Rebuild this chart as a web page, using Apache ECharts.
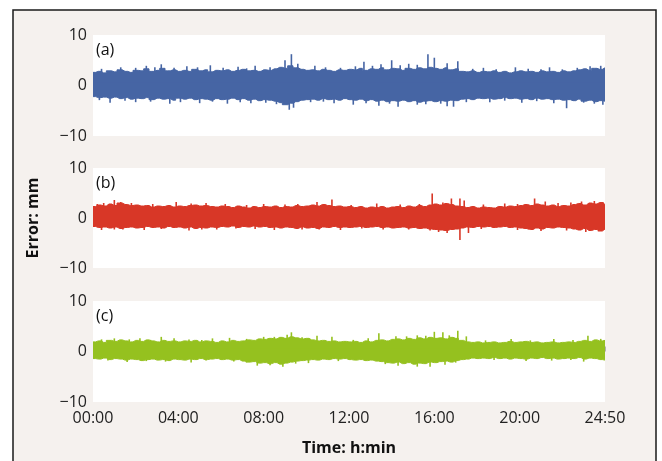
<!DOCTYPE html>
<html>
<head>
<meta charset="utf-8">
<script src="https://cdn.jsdelivr.net/npm/echarts@6/dist/echarts.min.js"></script>
<style>
html,body{margin:0;padding:0;background:#fff;}
#chart{width:662px;height:461px;}
</style>
</head>
<body>
<div id="chart"></div>
<script>
// Sampling grid: every 0.25 h from 00:00 to 24:00 (97 samples)
const sampleStepHours = 0.25;
const xTickLabels = ['00:00','04:00','08:00','12:00','16:00','20:00','24:50'];
const yTickLabels = {'10':'10','0':'0','-10':'\u221210'};
const panelLabels = ['(a)','(b)','(c)'];

// Panel (a) envelope (mm)
const aHigh = [2.6,2.8,2.5,2.9,2.7,3.1,2.8,2.6,3.0,
  2.9,3.3,2.8,3.0,3.4,2.9,3.1,2.8,
  3.0,2.8,3.2,2.9,3.1,2.7,3.0,2.9,
  3.1,2.8,3.0,3.2,2.9,3.0,2.8,3.1,
  3.0,3.3,3.6,3.4,3.9,3.5,3.2,3.0,
  3.1,2.9,3.2,3.0,2.8,3.1,3.0,3.2,
  3.1,3.4,3.0,3.3,3.2,3.5,3.1,3.4,
  3.3,3.0,3.4,3.2,3.5,3.3,3.6,3.4,
  3.2,3.5,3.1,3.3,2.8,2.7,2.9,2.6,
  2.8,2.7,2.9,2.6,2.8,2.5,2.7,2.9,
  2.7,2.8,2.6,2.9,2.7,2.8,2.6,2.9,
  2.7,2.9,3.1,3.3,3.0,3.4,3.2,3.5];
const aLow = [-2.2,-2.4,-2.3,-2.5,-2.3,-2.6,-2.4,-2.7,-2.5,
  -2.6,-2.4,-2.8,-2.5,-2.7,-2.6,-2.9,-2.5,
  -2.7,-2.5,-2.8,-2.6,-2.7,-2.9,-2.6,-2.8,
  -2.7,-2.5,-2.8,-2.6,-2.9,-2.7,-3.0,-2.8,
  -2.9,-3.1,-3.4,-3.8,-3.5,-3.2,-2.9,-2.8,
  -2.7,-2.9,-2.6,-2.8,-2.7,-2.9,-2.6,-2.8,
  -2.9,-2.7,-3.0,-2.8,-3.1,-2.9,-3.2,-3.0,
  -3.1,-2.9,-3.2,-3.0,-3.3,-3.1,-3.0,-3.2,
  -3.0,-3.1,-2.9,-3.0,-2.7,-2.6,-2.8,-2.5,
  -2.6,-2.5,-2.7,-2.6,-2.4,-2.6,-2.5,-2.7,
  -2.6,-2.8,-2.5,-2.7,-2.6,-2.8,-2.7,-2.9,
  -2.8,-3.0,-2.7,-3.1,-2.9,-3.2,-3.0,-3.1];
const aSpikes = [[1.3,3.6],[2.5,3.9],[3.2,4.2],[4.4,3.8],[5.5,4.0],[6.8,3.7],[7.6,3.9],[9.0,5.0],[9.3,6.2],[9.6,4.3],[10.4,3.9],[12.7,4.7],[13.5,4.2],[14.0,5.0],[14.8,4.3],[15.7,6.2],[16.0,5.5],[16.6,4.4],[17.1,4.8],[18.3,3.5],[19.8,3.6],[21.4,3.6],[23.3,3.8],[23.8,3.9],
  [0.4,3.3],[2.0,3.5],[2.9,3.6],[3.8,3.5],[4.9,3.6],[6.1,3.5],[7.2,3.4],[8.3,3.6],[10.9,3.6],[11.6,3.5],[12.3,3.8],[13.1,3.9],[14.4,4.0],[15.2,4.1],[17.8,3.3],[18.9,3.2],[20.4,3.3],[21.0,3.2],[22.0,3.2],[22.7,3.5],
  [0.8,-3.4],[2.0,-3.3],[3.6,-3.6],[5.0,-3.5],[6.3,-3.6],[7.4,-3.5],[8.6,-3.7],[9.2,-4.8],[9.4,-4.4],[11.3,-3.5],[12.2,-3.8],[13.4,-4.0],[14.3,-4.2],[15.2,-3.8],[16.6,-4.1],[16.9,-4.2],[18.6,-3.3],[20.1,-3.4],[21.6,-3.5],[22.2,-4.5],[23.5,-3.6],[23.9,-3.8],
  [0.3,-2.9],[1.5,-3.0],[2.7,-3.2],[4.1,-3.3],[5.6,-3.2],[6.9,-3.3],[8.1,-3.4],[10.2,-3.3],[10.8,-3.2],[12.8,-3.5],[13.9,-3.6],[15.6,-3.7],[16.3,-3.6],[17.5,-3.3],[19.3,-3.0],[20.8,-3.1],[23.0,-3.4]];

// Panel (b) envelope (mm)
const bHigh = [2.3,2.6,2.4,2.8,2.5,3.0,2.7,2.5,2.6,
  2.4,2.5,2.2,2.4,2.3,2.5,2.2,2.4,
  2.3,2.5,2.6,2.4,2.5,2.3,2.2,2.4,
  2.3,2.1,2.4,2.2,2.0,2.3,2.1,2.3,
  2.2,2.4,2.1,2.3,2.2,2.5,2.3,2.4,
  2.6,2.4,2.7,2.5,2.3,2.4,2.2,2.3,
  2.1,2.3,2.0,2.2,2.1,2.3,2.0,2.2,
  2.3,2.1,2.4,2.2,2.5,2.3,2.6,2.8,
  2.6,2.9,2.7,2.4,2.3,2.1,2.3,2.0,
  2.2,2.1,2.0,2.3,2.2,2.4,2.3,2.5,
  2.7,2.5,2.8,2.6,2.4,2.6,2.3,2.5,
  2.4,2.7,2.9,2.6,3.0,2.8,3.1,2.7];
const bLow = [-1.7,-1.9,-1.8,-2.0,-1.8,-2.1,-1.9,-1.8,-2.0,
  -1.9,-1.7,-1.9,-1.8,-2.0,-1.7,-1.9,-1.8,
  -2.0,-1.8,-2.1,-1.9,-2.0,-1.8,-1.9,-1.7,
  -1.8,-1.6,-1.9,-1.7,-1.8,-1.6,-1.8,-1.7,
  -1.9,-1.8,-2.0,-1.8,-1.9,-2.1,-1.8,-2.0,
  -1.9,-2.1,-1.8,-1.9,-1.7,-1.9,-1.8,-1.9,
  -1.8,-1.7,-1.9,-1.8,-1.7,-1.9,-1.8,-2.0,
  -1.9,-1.8,-2.0,-1.9,-2.1,-2.0,-2.2,-2.3,
  -2.4,-2.5,-2.3,-2.2,-2.0,-1.8,-1.9,-1.7,
  -1.8,-1.7,-1.9,-1.8,-1.7,-1.9,-1.8,-2.0,
  -2.1,-2.3,-2.0,-2.2,-1.9,-2.0,-1.8,-1.9,
  -2.0,-2.2,-2.4,-2.1,-2.5,-2.3,-2.6,-2.2];
const bSpikes = [[0.5,3.0],[1.0,3.6],[1.3,3.2],[3.9,3.2],[5.3,3.0],[8.0,2.8],[10.5,3.2],[11.2,3.7],[13.3,2.9],[15.9,4.9],[16.8,3.9],[17.2,3.9],[17.4,3.5],[19.3,2.9],[20.7,3.9],[21.2,3.3],[22.9,3.3],[23.5,3.4],
  [0.2,2.8],[1.8,3.0],[2.8,2.8],[4.6,2.9],[6.2,2.8],[7.2,2.6],[9.0,2.7],[9.6,2.8],[12.1,2.6],[14.4,2.7],[15.3,2.8],[16.4,3.1],[18.3,2.7],[19.9,2.8],[21.8,3.0],[22.4,3.1],[23.9,3.2],
  [0.4,-2.4],[1.4,-2.3],[2.4,-2.4],[4.5,-2.5],[5.8,-2.3],[8.5,-2.4],[9.8,-2.3],[11.6,-2.4],[13.6,-2.3],[16.6,-3.0],[17.2,-4.4],[17.6,-3.0],[19.9,-2.4],[21.0,-2.6],[23.1,-2.8],
  [1.0,-2.3],[3.2,-2.2],[5.1,-2.3],[6.7,-2.1],[7.6,-2.2],[10.6,-2.3],[12.6,-2.1],[14.8,-2.3],[15.8,-2.5],[16.2,-2.8],[18.2,-2.2],[20.4,-2.3],[22.2,-2.5],[23.7,-2.7]];

// Panel (c) envelope (mm)
const cHigh = [1.9,2.1,1.8,2.2,2.0,2.3,2.1,1.9,2.2,
  2.0,2.3,2.1,1.9,2.2,2.0,2.1,1.9,
  2.1,2.0,2.2,1.9,2.1,2.0,1.8,2.1,
  1.9,2.2,2.0,2.1,2.3,2.2,2.5,2.4,
  2.6,2.5,2.8,2.6,2.9,2.7,2.5,2.6,
  2.3,2.1,2.2,2.0,2.1,1.9,2.0,1.9,
  2.0,1.8,2.1,1.9,2.2,2.3,2.1,2.4,
  2.5,2.3,2.6,2.4,2.7,2.5,2.8,2.6,
  2.7,2.5,2.8,2.6,2.2,1.9,1.8,1.9,
  1.7,1.8,1.9,1.7,1.8,2.0,1.8,1.9,
  2.0,1.8,1.9,1.7,1.8,1.9,1.7,1.8,
  1.9,1.8,2.0,2.2,2.0,2.3,2.1,2.2];
const cLow = [-1.4,-1.5,-1.3,-1.6,-1.4,-1.5,-1.7,-1.5,-1.6,
  -1.8,-1.6,-1.5,-1.7,-1.6,-1.8,-1.5,-1.6,
  -1.7,-1.5,-1.6,-1.4,-1.6,-1.5,-1.4,-1.6,
  -1.5,-1.7,-1.6,-1.9,-2.1,-2.0,-2.3,-2.2,
  -2.4,-2.2,-2.5,-2.3,-2.1,-1.9,-1.8,-1.7,
  -1.6,-1.7,-1.5,-1.6,-1.4,-1.5,-1.4,-1.6,
  -1.7,-1.6,-1.8,-1.7,-1.9,-2.0,-2.2,-2.3,
  -2.1,-2.4,-2.2,-2.5,-2.3,-2.4,-2.1,-2.2,
  -2.0,-1.9,-2.1,-1.8,-1.6,-1.5,-1.3,-1.4,
  -1.3,-1.4,-1.2,-1.4,-1.3,-1.5,-1.3,-1.4,
  -1.5,-1.3,-1.4,-1.2,-1.4,-1.3,-1.5,-1.4,
  -1.3,-1.4,-1.2,-1.5,-1.3,-1.4,-1.6,-1.7];
const cSpikes = [[1.0,2.6],[2.2,2.6],[3.2,2.9],[3.8,2.6],[5.6,2.6],[6.4,2.7],[8.0,2.9],[9.1,3.3],[9.3,3.8],[10.5,3.1],[11.2,2.9],[13.4,3.6],[14.2,3.0],[15.2,3.2],[16.0,3.9],[16.4,3.8],[17.1,4.1],[17.5,3.0],[19.6,2.5],[21.6,2.5],[23.2,3.1],
  [0.4,2.4],[1.7,2.4],[2.7,2.3],[4.5,2.4],[5.1,2.3],[7.2,2.5],[8.5,2.9],[9.8,2.8],[12.2,2.3],[12.9,2.6],[14.7,3.0],[15.6,3.1],[16.7,3.2],[18.4,2.2],[20.5,2.2],[22.5,2.3],[23.8,2.5],
  [1.6,-2.1],[3.4,-2.0],[4.6,-2.2],[6.6,-2.0],[7.7,-2.8],[8.9,-3.0],[10.1,-2.3],[14.3,-2.8],[15.2,-3.0],[15.8,-3.0],[17.0,-2.2],[20.3,-1.9],[23.0,-2.0],
  [0.7,-1.8],[2.5,-1.9],[5.3,-1.8],[7.2,-2.2],[8.3,-2.7],[9.5,-2.4],[11.5,-1.9],[13.7,-2.5],[16.5,-2.6],[18.8,-1.7],[21.5,-1.8],[22.4,-1.7]];

const colors = ['#4665a4','#d83727','#95c11f'];
const FONT = '"Open Sans", "Noto Sans", sans-serif';

const panels = [
  {hi:aHigh, lo:aLow, spikes:aSpikes, top:35, height:101},
  {hi:bHigh, lo:bLow, spikes:bSpikes, top:168, height:100},
  {hi:cHigh, lo:cLow, spikes:cSpikes, top:301, height:101}
];

function toXY(arr){ return arr.map((v,i)=>[i*sampleStepHours, v]); }

const grid = [], xAxis = [], yAxis = [], series = [], graphic = [];

graphic.push({
  type:'rect', z:-10, silent:true,
  shape:{x:13, y:10, width:643, height:470},
  style:{fill:'#f5f1ee', stroke:'#1a1a1a', lineWidth:1.5}
});

panels.forEach((p, k) => {
  grid.push({left:93, width:512, top:p.top, height:p.height, show:true,
    backgroundColor:'#ffffff', borderWidth:0});
  xAxis.push({
    type:'value', gridIndex:k, min:0, max:24, interval:4,
    show:true,
    axisLine:{show:false},
    axisTick:{show:k===2, inside:true, length:5, lineStyle:{color:'#b0b0b0', width:1}},
    axisLabel:{show:k===2, margin:8, color:'#222', fontSize:16, fontFamily:FONT,
      formatter:(v)=>xTickLabels[Math.round(v/4)]},
    splitLine:{show:false},
    name: k===2 ? 'Time: h:min' : '',
    nameLocation:'middle', nameGap:38,
    nameTextStyle:{fontWeight:'bold', fontSize:16, color:'#111', fontFamily:FONT}
  });
  yAxis.push({
    type:'value', gridIndex:k, min:-10, max:10, interval:10,
    axisLine:{show:false}, axisTick:{show:false}, splitLine:{show:false},
    axisLabel:{margin:6, color:'#222', fontSize:16, fontFamily:FONT,
      formatter:(v)=>yTickLabels[String(v)]},
    name: k===1 ? 'Error: mm' : '',
    nameLocation:'middle', nameGap:52, nameRotate:90,
    nameTextStyle:{fontWeight:'bold', fontSize:16, color:'#111', fontFamily:FONT}
  });
  [[p.hi, -0.6], [p.lo, 0.6]].forEach(([arr, org]) => {
    series.push({
      type:'line', xAxisIndex:k, yAxisIndex:k, data:toXY(arr), step:'middle',
      showSymbol:false, symbol:'none', silent:true, animation:false,
      lineStyle:{color:colors[k], width:1},
      areaStyle:{color:colors[k], opacity:1, origin:org}
    });
  });
  series.push({
    type:'custom', xAxisIndex:k, yAxisIndex:k, data:p.spikes, silent:true, animation:false,
    renderItem:(params, api) => {
      const a = api.coord([api.value(0), 0]);
      const b = api.coord([api.value(0), api.value(1)]);
      return {type:'line', shape:{x1:a[0], y1:a[1], x2:b[0], y2:b[1]},
        style:{stroke:colors[k], lineWidth:1.6}};
    }
  });
  graphic.push({
    type:'text', left:96, top:p.top+7, z:10,
    style:{text:panelLabels[k], fontSize:16, fill:'#111', fontFamily:FONT}
  });
});

const chart = echarts.init(document.getElementById('chart'), null, {renderer:'canvas'});
chart.setOption({
  backgroundColor:'#ffffff',
  animation:false,
  grid, xAxis, yAxis, series, graphic
});
</script>
</body>
</html>
